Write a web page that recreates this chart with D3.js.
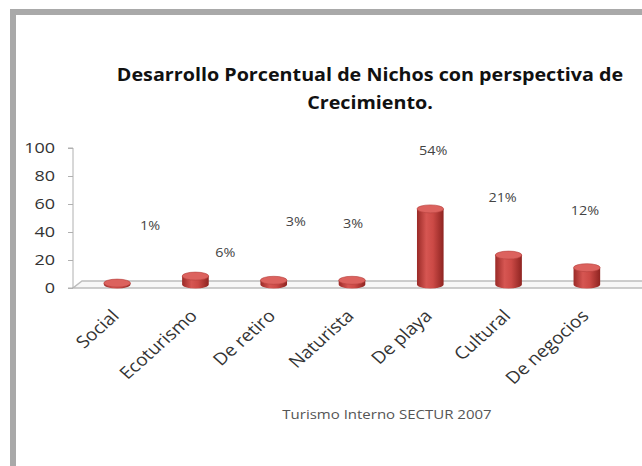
<!DOCTYPE html>
<html>
<head>
<meta charset="utf-8">
<script src="https://cdn.jsdelivr.net/npm/d3@7"></script>
<style>
  body { margin: 0; background: #fff; }
  svg { display: block; }
</style>
</head>
<body>
<svg id="chart" width="642" height="466"></svg>
<script>
const categories = ["Social", "Ecoturismo", "De retiro", "Naturista", "De playa", "Cultural", "De negocios"];
const values = [1, 6, 3, 3, 54, 21, 12];
const valueLabels = ["1%", "6%", "3%", "3%", "54%", "21%", "12%"];
const yTicks = [0, 20, 40, 60, 80, 100];
const titleLines = ["Desarrollo Porcentual de Nichos con perspectiva de", "Crecimiento."];
const subtitle = "Turismo Interno SECTUR 2007";

// where Excel dropped the % labels (dx in px, y in axis units)
const labelNudge = [[33, 44], [30, 25], [22, 47], [1, 46], [3, 98], [-6, 64], [-2, 55]];

const svg = d3.select("#chart");
const font = "'Open Sans', 'DejaVu Sans', sans-serif";
const stretch = 1.2; // the source picture is a bit wider than tall

// grey frame
svg.append("path")
  .attr("d", "M13,466 L13,12 L642,12")
  .attr("fill", "none")
  .attr("stroke", "#a9a9a9")
  .attr("stroke-width", 6);

// title, widened to the source width
const title = svg.append("g").attr("transform", `translate(370,0) scale(1.16,1)`);
titleLines.forEach((t, i) => {
  title.append("text")
    .attr("x", 0)
    .attr("y", 81 + i * 28)
    .attr("text-anchor", "middle")
    .attr("font-family", font)
    .attr("font-weight", "bold")
    .attr("font-size", 17)
    .attr("fill", "#111")
    .text(t);
});

const y = d3.scaleLinear().domain([0, 100]).range([288, 148]);
const x = d3.scaleBand().domain(categories).range([78, 626]);
const depth = { dx: 9, dy: -7 };

// floor
const floorY = y(0);
svg.append("path")
  .attr("d", `M642,${floorY} L73,${floorY} L${73 + depth.dx},${floorY + depth.dy} L642,${floorY + depth.dy}`)
  .attr("fill", "#f7f7f7")
  .attr("stroke", "#bdbdbd")
  .attr("stroke-width", 1.5);

// y axis
const yAxis = d3.axisLeft(y).tickValues(yTicks).tickSize(5);
const gy = svg.append("g").attr("transform", "translate(73,0)").call(yAxis);
gy.select(".domain").attr("stroke", "#b0b0b0").attr("d", `M-5,${y(100)}H0V${y(0)}H-5`);
gy.selectAll(".tick line").attr("stroke", "#b0b0b0");
gy.selectAll(".tick text")
  .attr("x", -18 / stretch)
  .attr("transform", `scale(${stretch},1)`)
  .attr("font-family", font)
  .attr("font-size", 15)
  .attr("fill", "#333");

// cylinders
const defs = svg.append("defs");
const grad = defs.append("linearGradient").attr("id", "cyl").attr("x1", 0).attr("x2", 1);
grad.append("stop").attr("offset", "0%").attr("stop-color", "#9a2a27");
grad.append("stop").attr("offset", "35%").attr("stop-color", "#d65652");
grad.append("stop").attr("offset", "60%").attr("stop-color", "#cc4a46");
grad.append("stop").attr("offset", "100%").attr("stop-color", "#8e2421");

const bw = x.bandwidth() * 0.34;
const ry = 4;
const baseY = floorY - 3.5;
const bars = svg.append("g").selectAll("g").data(values).join("g")
  .attr("transform", (d, i) => `translate(${x(categories[i]) + x.bandwidth() / 2},0)`);

bars.append("path")
  .attr("fill", "url(#cyl)")
  .attr("d", d => {
    const top = baseY - (y(0) - y(d));
    return `M${-bw / 2},${top} L${-bw / 2},${baseY} A${bw / 2},${ry} 0 0 0 ${bw / 2},${baseY} L${bw / 2},${top} Z`;
  });
bars.append("ellipse")
  .attr("cx", 0)
  .attr("cy", d => baseY - (y(0) - y(d)))
  .attr("rx", bw / 2)
  .attr("ry", ry)
  .attr("fill", "#dc625e")
  .attr("stroke", "#b5403c")
  .attr("stroke-width", 0.6);

// value labels
svg.append("g").selectAll("text").data(values).join("text")
  .attr("transform", (d, i) =>
    `translate(${x(categories[i]) + x.bandwidth() / 2 + labelNudge[i][0]},${y(labelNudge[i][1]) + 4}) scale(${stretch},1)`)
  .attr("text-anchor", "middle")
  .attr("font-family", font)
  .attr("font-size", 12)
  .attr("fill", "#444")
  .text((d, i) => valueLabels[i]);

// category labels
svg.append("g").selectAll("text").data(categories).join("text")
  .attr("transform", d => `translate(${x(d) + x.bandwidth() / 2 + 3},317) scale(1.12,1) rotate(-45)`)
  .attr("text-anchor", "end")
  .attr("font-family", font)
  .attr("font-size", 17)
  .attr("fill", "#333")
  .text(d => d);

svg.append("text")
  .attr("transform", `translate(387,419) scale(${stretch},1)`)
  .attr("text-anchor", "middle")
  .attr("font-family", font)
  .attr("font-size", 12.5)
  .attr("fill", "#555")
  .text(subtitle);
</script>
</body>
</html>
